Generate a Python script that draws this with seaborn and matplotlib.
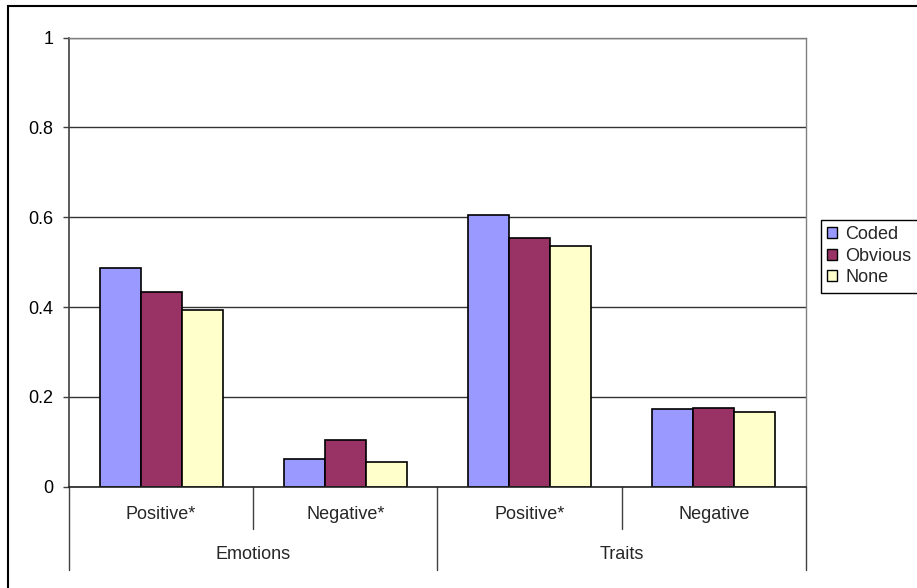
import matplotlib
matplotlib.use("Agg")
import matplotlib.pyplot as plt
import seaborn as sns
import pandas as pd
from matplotlib.patches import Rectangle, Patch
from matplotlib.lines import Line2D

# Chart data
groups = ["Emotions", "Emotions", "Traits", "Traits"]
valences = ["Positive*", "Negative*", "Positive*", "Negative"]
series = ["Coded", "Obvious", "None"]
coded = [0.486, 0.062, 0.604, 0.173]
obvious = [0.433, 0.103, 0.553, 0.176]
none = [0.393, 0.056, 0.536, 0.167]
yticks = [0, 0.2, 0.4, 0.6, 0.8, 1]
ytick_labels = ["0", "0.2", "0.4", "0.6", "0.8", "1"]
colors = ["#9999FF", "#993366", "#FFFFCC"]

cells = [f"{g} {v}" for g, v in zip(groups, valences)]
rows = []
for name, vals in zip(series, [coded, obvious, none]):
    for c, v in zip(cells, vals):
        rows.append({"cell": c, "series": name, "value": v})
df = pd.DataFrame(rows)

sns.set_theme(style="white")
plt.rcParams["font.family"] = ["Liberation Sans", "DejaVu Sans"]

fig = plt.figure(figsize=(9.17, 5.88), dpi=100)
ax = fig.add_axes([0.0752, 0.1723, 0.8037, 0.7636])

sns.barplot(data=df, x="cell", y="value", hue="series", hue_order=series,
            order=cells, palette=colors, width=0.667, edgecolor="black",
            linewidth=1.2, saturation=1, ax=ax, legend=False, errorbar=None)

ax.set_xlim(-0.5, 3.5)
ax.set_ylim(0, 1)
ax.set_yticks(yticks, ytick_labels)
ax.set_xticks([])
ax.set_xlabel("")
ax.set_ylabel("")
ax.yaxis.grid(True, color="#333333", linewidth=1)
ax.set_axisbelow(True)
for side in ["top", "right"]:
    ax.spines[side].set_color("#808080")
    ax.spines[side].set_linewidth(1)
ax.spines["left"].set_color("#404040")
ax.spines["bottom"].set_color("#222222")
ax.spines["left"].set_linewidth(1.2)
ax.spines["bottom"].set_linewidth(1.2)
ax.tick_params(axis="y", left=True, length=4.3, width=1, color="#404040",
               direction="out", pad=7, labelsize=13, labelcolor="black")

# Two-level category axis
trans = ax.get_xaxis_transform()
for x in [0.5, 2.5]:
    ax.add_line(Line2D([x, x], [0, -0.0935], transform=trans, color="#404040",
                       lw=1, clip_on=False))
for x in [-0.5, 1.5, 3.5]:
    ax.add_line(Line2D([x, x], [0, -0.185], transform=trans, color="#404040",
                       lw=1, clip_on=False))
for i, v in enumerate(valences):
    ax.text(i, -0.0624, v, transform=trans, ha="center", va="center", fontsize=13)
for i, g in enumerate(["Emotions", "Traits"]):
    ax.text(2 * i + 0.5, -0.1514, g, transform=trans, ha="center", va="center",
            fontsize=13)

# Legend (its right edge runs up to the image border)
handles = [Patch(facecolor=c, edgecolor="black", linewidth=1) for c in colors]
leg = fig.legend(handles, series, loc="upper left", bbox_to_anchor=(0.895, 0.626),
                 frameon=True, fancybox=False, edgecolor="black", framealpha=1,
                 handlelength=0.55, handleheight=0.55, handletextpad=0.45,
                 labelspacing=0.25, borderpad=0.35, borderaxespad=0, fontsize=13)
leg.get_frame().set_linewidth(1)

# Outer chart border (bottom and right edges lie outside the image)
fig.patches.append(Rectangle((8 / 917, -0.05), 1.0, 1.05 - 6 / 588,
                             transform=fig.transFigure, fill=False,
                             edgecolor="black", linewidth=1.5))

fig.savefig("out.png", dpi=100)
